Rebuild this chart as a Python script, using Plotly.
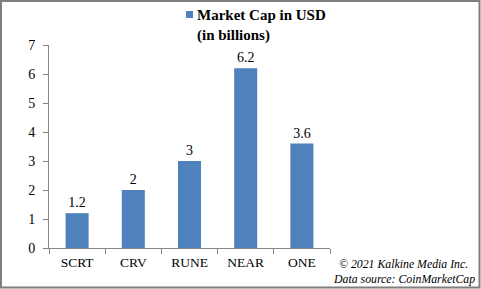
import plotly.graph_objects as go

categories = ["SCRT", "CRV", "RUNE", "NEAR", "ONE"]
values = [1.2, 2, 3, 6.2, 3.6]
value_labels = ["1.2", "2", "3", "6.2", "3.6"]
series_name = "<b>Market Cap in USD<br>(in billions)</b>"

SERIF = "Liberation Serif, Times New Roman, serif"
W, H = 481, 289
L, R, T, B = 49, 151, 45, 41
pw, ph = W - L - R, H - T - B

fig = go.Figure()
fig.add_trace(go.Bar(
    x=categories, y=values, name=series_name,
    marker=dict(color="#4F81BD", line=dict(width=0)),
    text=value_labels, textposition="outside", cliponaxis=False,
    textfont=dict(family=SERIF, size=14, color="black"),
    width=0.41, showlegend=False,
))

def px_x(x):
    return (x - L) / pw

def px_y(y):
    return (H - B - y) / ph

fig.update_layout(
    width=W, height=H,
    margin=dict(l=L, r=R, t=T, b=B),
    paper_bgcolor="white", plot_bgcolor="white",
    font=dict(family=SERIF, size=14, color="black"),
    showlegend=False,
    xaxis=dict(
        showline=True, linecolor="#868686", linewidth=1,
        ticks="outside", tickcolor="#868686", ticklen=5,
        tickson="boundaries", showgrid=False, ticklabelstandoff=2,
        tickfont=dict(family=SERIF, size=13.5, color="black"),
    ),
    yaxis=dict(
        range=[0, 7], dtick=1, showline=True, linecolor="#868686", linewidth=1,
        ticks="outside", tickcolor="#868686", ticklen=5, showgrid=False,
        zeroline=False, ticklabelstandoff=5,
        tickfont=dict(family=SERIF, size=14, color="black"),
    ),
    annotations=[
        dict(text=series_name, xref="paper", yref="paper",
             x=px_x(195), y=px_y(5), xanchor="left", yanchor="top", align="left",
             showarrow=False, font=dict(family=SERIF, size=15, color="black")),
        dict(text="<i>© 2021 Kalkine Media Inc.</i>", xref="paper", yref="paper",
             x=px_x(470), y=px_y(264), xanchor="right", yanchor="middle",
             showarrow=False, font=dict(family=SERIF, size=11.8, color="black")),
        dict(text="<i>Data source: CoinMarketCap</i>", xref="paper", yref="paper",
             x=px_x(477), y=px_y(279), xanchor="right", yanchor="middle",
             showarrow=False, font=dict(family=SERIF, size=11.8, color="black")),
    ],
    shapes=[
        dict(type="rect", xref="paper", yref="paper",
             x0=px_x(1), x1=px_x(479.5), y0=px_y(287.5), y1=px_y(1),
             line=dict(color="#7f7f7f", width=2), fillcolor="rgba(0,0,0,0)"),
        dict(type="rect", xref="paper", yref="paper",
             x0=px_x(186), x1=px_x(193), y0=px_y(18), y1=px_y(11),
             line=dict(width=0), fillcolor="#4F81BD"),
    ],
)

fig.write_html("out.html")
